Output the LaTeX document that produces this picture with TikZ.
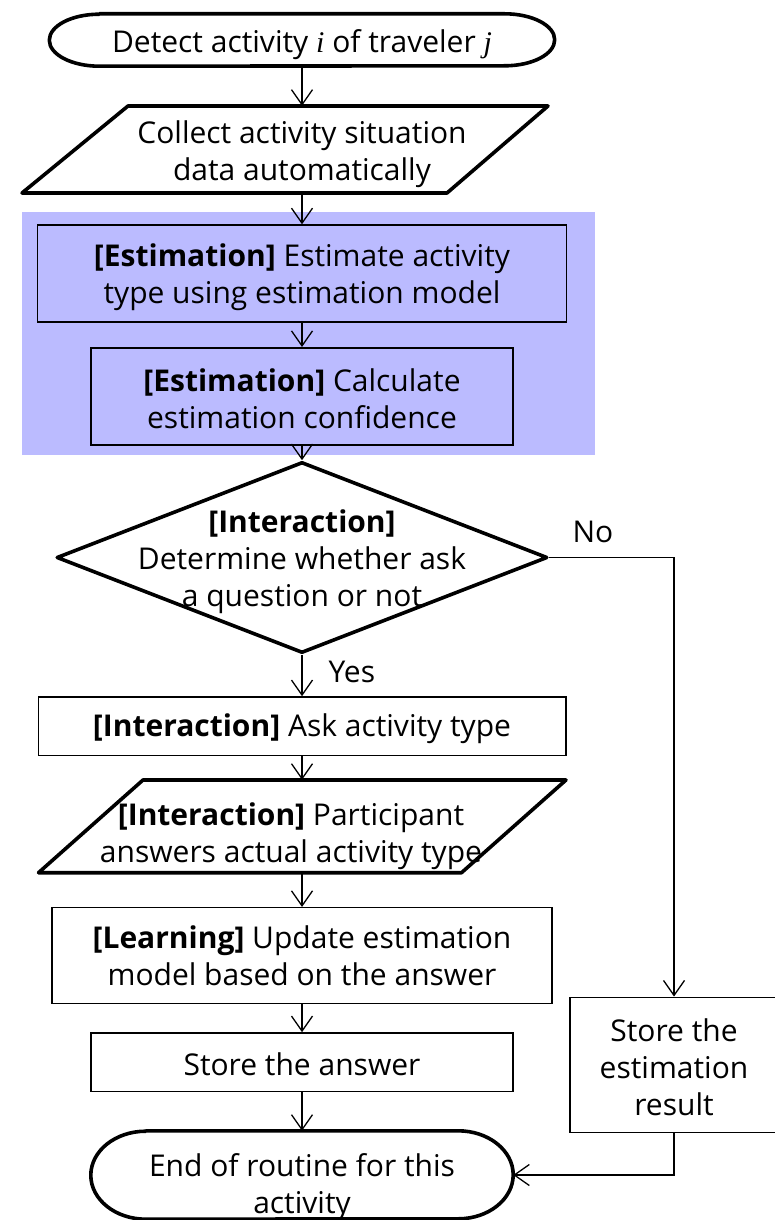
\documentclass[tikz,border=0pt]{standalone}
\usepackage{fontspec}
\setmainfont{Open Sans}
\newfontfamily\serifit{Liberation Serif}
\usetikzlibrary{arrows.meta,shapes.geometric}
\definecolor{estblue}{RGB}{187,187,255}
\newcommand{\fs}{\fontsize{30}{37}\selectfont}
\newcommand{\txtdown}[1]{\rule{0pt}{\dimexpr 22.8pt+#1*2\relax}}
\begin{document}
\begin{tikzpicture}[x=1pt,y=-1pt,
  thinln/.style={line width=1.5pt},
  thickln/.style={line width=3.6pt, line join=round},
  box/.style={draw, line width=1.5pt, rectangle, inner sep=0pt, align=center, font=\fs},
  txt/.style={inner sep=0pt, align=center, font=\fs},
  arr/.style={line width=1.3pt, -{Straight Barb[length=15pt,width=21pt,line width=1.3pt]}},
  lab/.style={inner sep=0pt, font=\fs}]
\useasboundingbox (0,0) rectangle (774,1220);
% estimation band
\fill[estblue] (22,212) rectangle (595,455);
% start terminal
\node[txt, minimum width=505pt, minimum height=52pt] (start) at (302,40)
  {\txtdown{5pt}Detect activity {\serifit\itshape i} of traveler {\serifit\itshape j}};
\draw[thickln] ([xshift=50pt]start.north west) -- ([xshift=-50pt]start.north east)
  arc[start angle=90, end angle=-90, x radius=50pt, y radius=26pt]
  -- ([xshift=50pt]start.south west)
  arc[start angle=270, end angle=90, x radius=50pt, y radius=26pt] -- cycle;
% data input
\node[txt, minimum height=87pt] (p1) at (302,149.5) {\txtdown{5pt}Collect activity situation\\data automatically};
\draw[thickln] (128,106) -- (548,106) -- (447,193) -- (22,193) -- cycle;
% estimation boxes
\node[box, fill=estblue, minimum width=529pt, minimum height=96.7pt] (b1) at (302,273.4)
  {\txtdown{4pt}\textbf{[Estimation]} Estimate activity\\type using estimation model};
\node[box, fill=estblue, minimum width=422pt, minimum height=97.3pt] (b2) at (302,396.4)
  {\txtdown{2pt}\textbf{[Estimation]} Calculate\\estimation confidence};
% decision
\node[diamond, draw, thickln, minimum width=491pt, minimum height=191pt, inner sep=0pt] (dia) at (302,557.5) {};
\node[txt] (dtxt) at (302,562) {\textbf{[Interaction]}\\Determine whether ask\\a question or not};
% ask
\node[box, minimum width=527.5pt, minimum height=58.7pt] (b3) at (302,726.3)
  {\txtdown{2pt}\textbf{[Interaction]} Ask activity type};
% answer input
\node[txt, minimum height=92.7pt] (p2) at (291,826.4)
  {\txtdown{10pt}\textbf{[Interaction]} Participant\\answers actual activity type};
\draw[thickln] (143,780) -- (566,780) -- (461.5,872.7) -- (38.5,872.7) -- cycle;
% learning
\node[box, minimum width=500pt, minimum height=95.6pt] (b4) at (302,955.5)
  {\textbf{[Learning]} Update estimation\\model based on the answer};
\node[box, minimum width=421.7pt, minimum height=58.7pt] (b5) at (302,1062.3)
  {\txtdown{2pt}Store the answer};
% right branch box
\node[box, minimum width=208pt, minimum height=135.4pt] (rbox) at (674,1065)
  {\txtdown{2pt}Store the\\estimation\\result};
% end terminal
\node[txt, minimum width=422pt, minimum height=88pt] (endn) at (302,1175) {};
\draw[thickln] ([xshift=55pt]endn.north west) -- ([xshift=-55pt]endn.north east)
  arc[start angle=90, end angle=-90, x radius=55pt, y radius=44pt]
  -- ([xshift=55pt]endn.south west)
  arc[start angle=270, end angle=90, x radius=55pt, y radius=44pt] -- cycle;
\node[txt] (etxt) at (302,1187) {End of routine for this\\activity};
% connectors
\draw[arr] (start.south) -- (p1.north);
\draw[arr] (p1.south) -- (b1.north);
\draw[arr] (b1.south) -- (b2.north);
\draw[arr] (b2.south) -- (dia.north);
\draw[arr] (dia.south) -- node[lab, anchor=west, xshift=26pt, yshift=4pt] {Yes} (b3.north);
\draw[arr] (dia.east) -| node[lab, pos=0.175, anchor=south, yshift=14pt] {No} (rbox.north);
\draw[arr] (b3.south) -- (b3.south |- p2.north);
\draw[arr] (p2.south -| b4.north) -- (b4.north);
\draw[arr] (b4.south) -- (b5.north);
\draw[arr] (b5.south) -- (endn.north);
\draw[arr] (rbox.south) |- (endn.east);
\end{tikzpicture}
\end{document}
